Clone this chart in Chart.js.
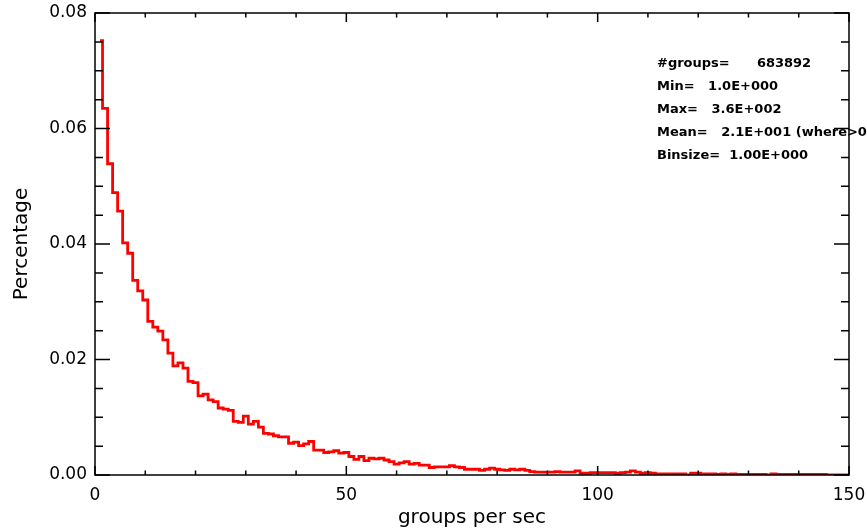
<!DOCTYPE html>
<html>
<head>
<meta charset="utf-8">
<script src="https://cdn.jsdelivr.net/npm/chart.js@4.4.0/dist/chart.umd.min.js"></script>
<style>
  body { margin: 0; background: #fff; }
  #wrap { width: 867px; height: 531px; }
</style>
</head>
<body>
<div id="wrap"><canvas id="chart" width="867" height="531"></canvas></div>
<script>
// histogram: groups per sec, bin size 1, first bin at 1
const binStart = 1;
const binSize = 1;
const percentage = [
  0.0752, 0.0635, 0.0539, 0.0489, 0.0457, 0.0402, 0.0384, 0.0337, 0.0319, 0.0303,
  0.0266, 0.0256, 0.0249, 0.0234, 0.0211, 0.0189, 0.0194, 0.0185, 0.0162, 0.0160,
  0.0137, 0.0140, 0.0130, 0.0127, 0.0116, 0.0114, 0.0112, 0.0093, 0.0091, 0.0102,
  0.0088, 0.0093, 0.0083, 0.0072, 0.0071, 0.0068, 0.0066, 0.0066, 0.0055, 0.0057,
  0.0051, 0.0054, 0.0058, 0.0043, 0.0043, 0.0039, 0.0040, 0.0042, 0.0038, 0.0039,
  0.0032, 0.0027, 0.0032, 0.0025, 0.0029, 0.0028, 0.0029, 0.0026, 0.0023, 0.0019,
  0.0021, 0.0023, 0.0019, 0.0020, 0.0017, 0.0017, 0.0013, 0.0014, 0.0014, 0.0014,
  0.0016, 0.0014, 0.0013, 0.0010, 0.0010, 0.0010, 0.0008, 0.0010, 0.0012, 0.0010,
  0.0009, 0.0008, 0.0010, 0.0009, 0.0010, 0.0008, 0.0006, 0.0005, 0.0005, 0.0005,
  0.0005, 0.0006, 0.0005, 0.0005, 0.0005, 0.0007, 0.0003, 0.0003, 0.0004, 0.0004,
  0.0004, 0.0004, 0.0004, 0.0003, 0.0004, 0.0005, 0.0007, 0.0005, 0.0003, 0.0004,
  0.0003, 0.0002, 0.0002, 0.0002, 0.0002, 0.0002, 0.0002, 0.0000, 0.0003, 0.0003,
  0.0002, 0.0002, 0.0002, 0.0001, 0.0002, 0.0001, 0.0002, 0.0001, 0.0001, 0.0001,
  0.0001, 0.0001, 0.0001, 0.0000, 0.0002, 0.0001, 0.0001, 0.0001, 0.0001, 0.0001,
  0.0001, 0.0001, 0.0001, 0.0001, 0.0001, 0.0000, 0.0000, 0.0000, 0.0000, 0.0000
];

const xMajorTicks = [0, 50, 100, 150];
const xMinorTicks = [10, 20, 30, 40, 60, 70, 80, 90, 110, 120, 130, 140];
const yMajorTicks = [0, 0.02, 0.04, 0.06, 0.08];
const yMinorTicks = [0.005, 0.01, 0.015, 0.025, 0.03, 0.035, 0.045, 0.05, 0.055, 0.065, 0.07, 0.075];

const statLines = [
  '#groups=      683892',
  'Min=   1.0E+000',
  'Max=   3.6E+002',
  'Mean=   2.1E+001 (where>0)',
  'Binsize=  1.00E+000'
];

const points = percentage.map((v, i) => ({ x: binStart + i * binSize, y: v }));

// IDL style box with inward ticks on all four sides
const idlFrame = {
  id: 'idlFrame',
  afterDraw(chart) {
    const c = chart.ctx;
    const a = chart.chartArea;
    const xs = chart.scales.x, ys = chart.scales.y;
    c.save();
    c.strokeStyle = '#000';
    c.lineWidth = 1.5;
    c.strokeRect(a.left, a.top, a.right - a.left, a.bottom - a.top);
    c.beginPath();
    const xTick = (v, len) => {
      const px = xs.getPixelForValue(v);
      c.moveTo(px, a.bottom); c.lineTo(px, a.bottom - len);
      c.moveTo(px, a.top); c.lineTo(px, a.top + len);
    };
    const yTick = (v, len) => {
      const py = ys.getPixelForValue(v);
      c.moveTo(a.left, py); c.lineTo(a.left + len, py);
      c.moveTo(a.right, py); c.lineTo(a.right - len, py);
    };
    xMajorTicks.forEach(v => xTick(v, 9));
    xMinorTicks.forEach(v => xTick(v, 4.5));
    yMajorTicks.forEach(v => yTick(v, 15));
    yMinorTicks.forEach(v => yTick(v, 8));
    c.stroke();

    c.fillStyle = '#000';
    c.font = 'bold 13px "DejaVu Sans"';
    c.textBaseline = 'alphabetic';
    statLines.forEach((t, i) => c.fillText(t, 657, 67 + i * 23));
    c.restore();
  }
};

const tickFont = { family: 'DejaVu Sans', size: 17 };
const titleFont = { family: 'DejaVu Sans', size: 20 };

const ctx = document.getElementById('chart').getContext('2d');
const chart = new Chart(ctx, {
  type: 'line',
  data: {
    datasets: [{
      data: points,
      borderColor: '#ff0000',
      borderWidth: 2.8,
      pointRadius: 0,
      stepped: 'middle',
      fill: false
    }]
  },
  options: {
    responsive: false,
    animation: false,
    layout: { padding: { top: 13, right: 18, left: 0, bottom: 0 } },
    plugins: { legend: { display: false }, tooltip: { enabled: false } },
    scales: {
      x: {
        type: 'linear',
        min: 0,
        max: 150,
        afterBuildTicks: s => { s.ticks = xMajorTicks.map(v => ({ value: v })); },
        afterFit: s => { s.height = 56; s.paddingLeft = 0; s.paddingRight = 0; },
        grid: { display: false, drawTicks: false },
        border: { display: false },
        ticks: { color: '#000', font: tickFont, padding: 10, maxRotation: 0 },
        title: { display: true, text: 'groups per sec', color: '#000', font: titleFont, padding: { top: 0, bottom: 1 } }
      },
      y: {
        min: 0,
        max: 0.08,
        afterBuildTicks: s => { s.ticks = yMajorTicks.map(v => ({ value: v })); },
        afterFit: s => { s.width = 95; s.paddingTop = 0; s.paddingBottom = 0; },
        grid: { display: false, drawTicks: false },
        border: { display: false },
        ticks: { color: '#000', font: tickFont, padding: 8, callback: v => v.toFixed(2) },
        title: { display: true, text: 'Percentage', color: '#000', font: titleFont, padding: { top: 10, bottom: 0 } }
      }
    }
  },
  plugins: [idlFrame]
});
</script>
</body>
</html>
